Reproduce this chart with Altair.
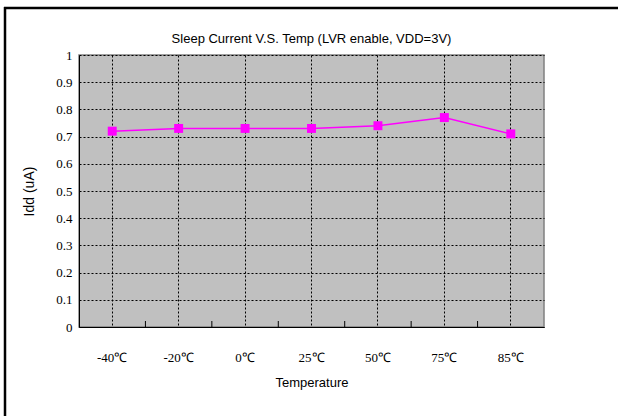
import altair as alt
import pandas as pd

temps = ["-40℃", "-20℃", "0℃", "25℃", "50℃", "75℃", "85℃"]
idd = [0.72, 0.73, 0.73, 0.73, 0.74, 0.77, 0.71]
y_ticks = [0, 0.1, 0.2, 0.3, 0.4, 0.5, 0.6, 0.7, 0.8, 0.9, 1.0]
title_text = "Sleep Current V.S. Temp (LVR enable, VDD=3V)"

df = pd.DataFrame({"Temperature": temps, "Idd": idd})
bounds = pd.DataFrame({"Temperature": temps[1:]})
one = pd.DataFrame({"a": [0]})

W, H = 465, 272
L, T = 79, 55

xscale = alt.Scale(type="band", domain=temps, paddingInner=0, paddingOuter=0)
yscale = alt.Scale(domain=[0, 1])

x_axis = alt.Axis(
    title="Temperature", labelAngle=0, labelFont="Liberation Serif", labelFontSize=13,
    labelColor="black", labelPadding=24, ticks=False, grid=True, gridDash=[2, 2],
    gridColor="black", gridOpacity=1, gridWidth=1, bandPosition=0.5,
    domainColor="black", titleFont="Liberation Sans", titleFontSize=13,
    titleFontWeight="normal", titleColor="black", titlePadding=12,
)
y_axis = alt.Axis(
    title="Idd (uA)", values=y_ticks, format="~g", labelFont="Liberation Serif",
    labelFontSize=13, labelColor="black", labelPadding=7, ticks=False, grid=True,
    gridDash=[2, 2], gridColor="black", gridOpacity=1, gridWidth=1,
    domainColor="black", titleFont="Liberation Sans", titleFontSize=14,
    titleFontWeight="normal", titleColor="black", titlePadding=19,
)

X = alt.X("Temperature:N", scale=xscale, sort=temps, axis=x_axis)
Y = alt.Y("Idd:Q", scale=yscale, axis=y_axis)

line = alt.Chart(df).mark_line(color="#FF00FF", strokeWidth=1.5).encode(x=X, y=Y)
pts = alt.Chart(df).mark_point(shape="square", filled=True, color="#FF00FF",
                               size=80, opacity=1).encode(x=X, y=Y)
ticks = alt.Chart(bounds).mark_rule(color="black", strokeWidth=1).encode(
    x=alt.X("Temperature:N", scale=xscale, sort=temps, bandPosition=0, axis=x_axis),
    y=alt.value(H),
    y2=alt.value(H - 6),
)
frame_left = alt.Chart(one).mark_rule(color="black", strokeWidth=2.5).encode(
    x=alt.value(5 - L), y=alt.value(7 - T), y2=alt.value(430 - T),
)
frame_top = alt.Chart(one).mark_rule(color="black", strokeWidth=2.5).encode(
    x=alt.value(4 - L), x2=alt.value(630 - L), y=alt.value(8 - T),
)
title = alt.Chart(one).mark_text(
    text=title_text, font="Liberation Sans", fontSize=13, color="black",
    align="center", baseline="alphabetic"
).encode(x=alt.value(W / 2), y=alt.value(43 - T))

chart = alt.layer(ticks, line, pts, frame_left, frame_top, title).properties(
    width=W, height=H,
    autosize=alt.AutoSizeParams(type="none"),
    padding={"left": L, "top": T, "right": 618 - L - W, "bottom": 416 - T - H},
    background="white",
).configure_view(
    fill="#C0C0C0", stroke="#808080", strokeWidth=1.5
)

chart.save("out.html", embed_options={"renderer": "svg", "actions": False})
